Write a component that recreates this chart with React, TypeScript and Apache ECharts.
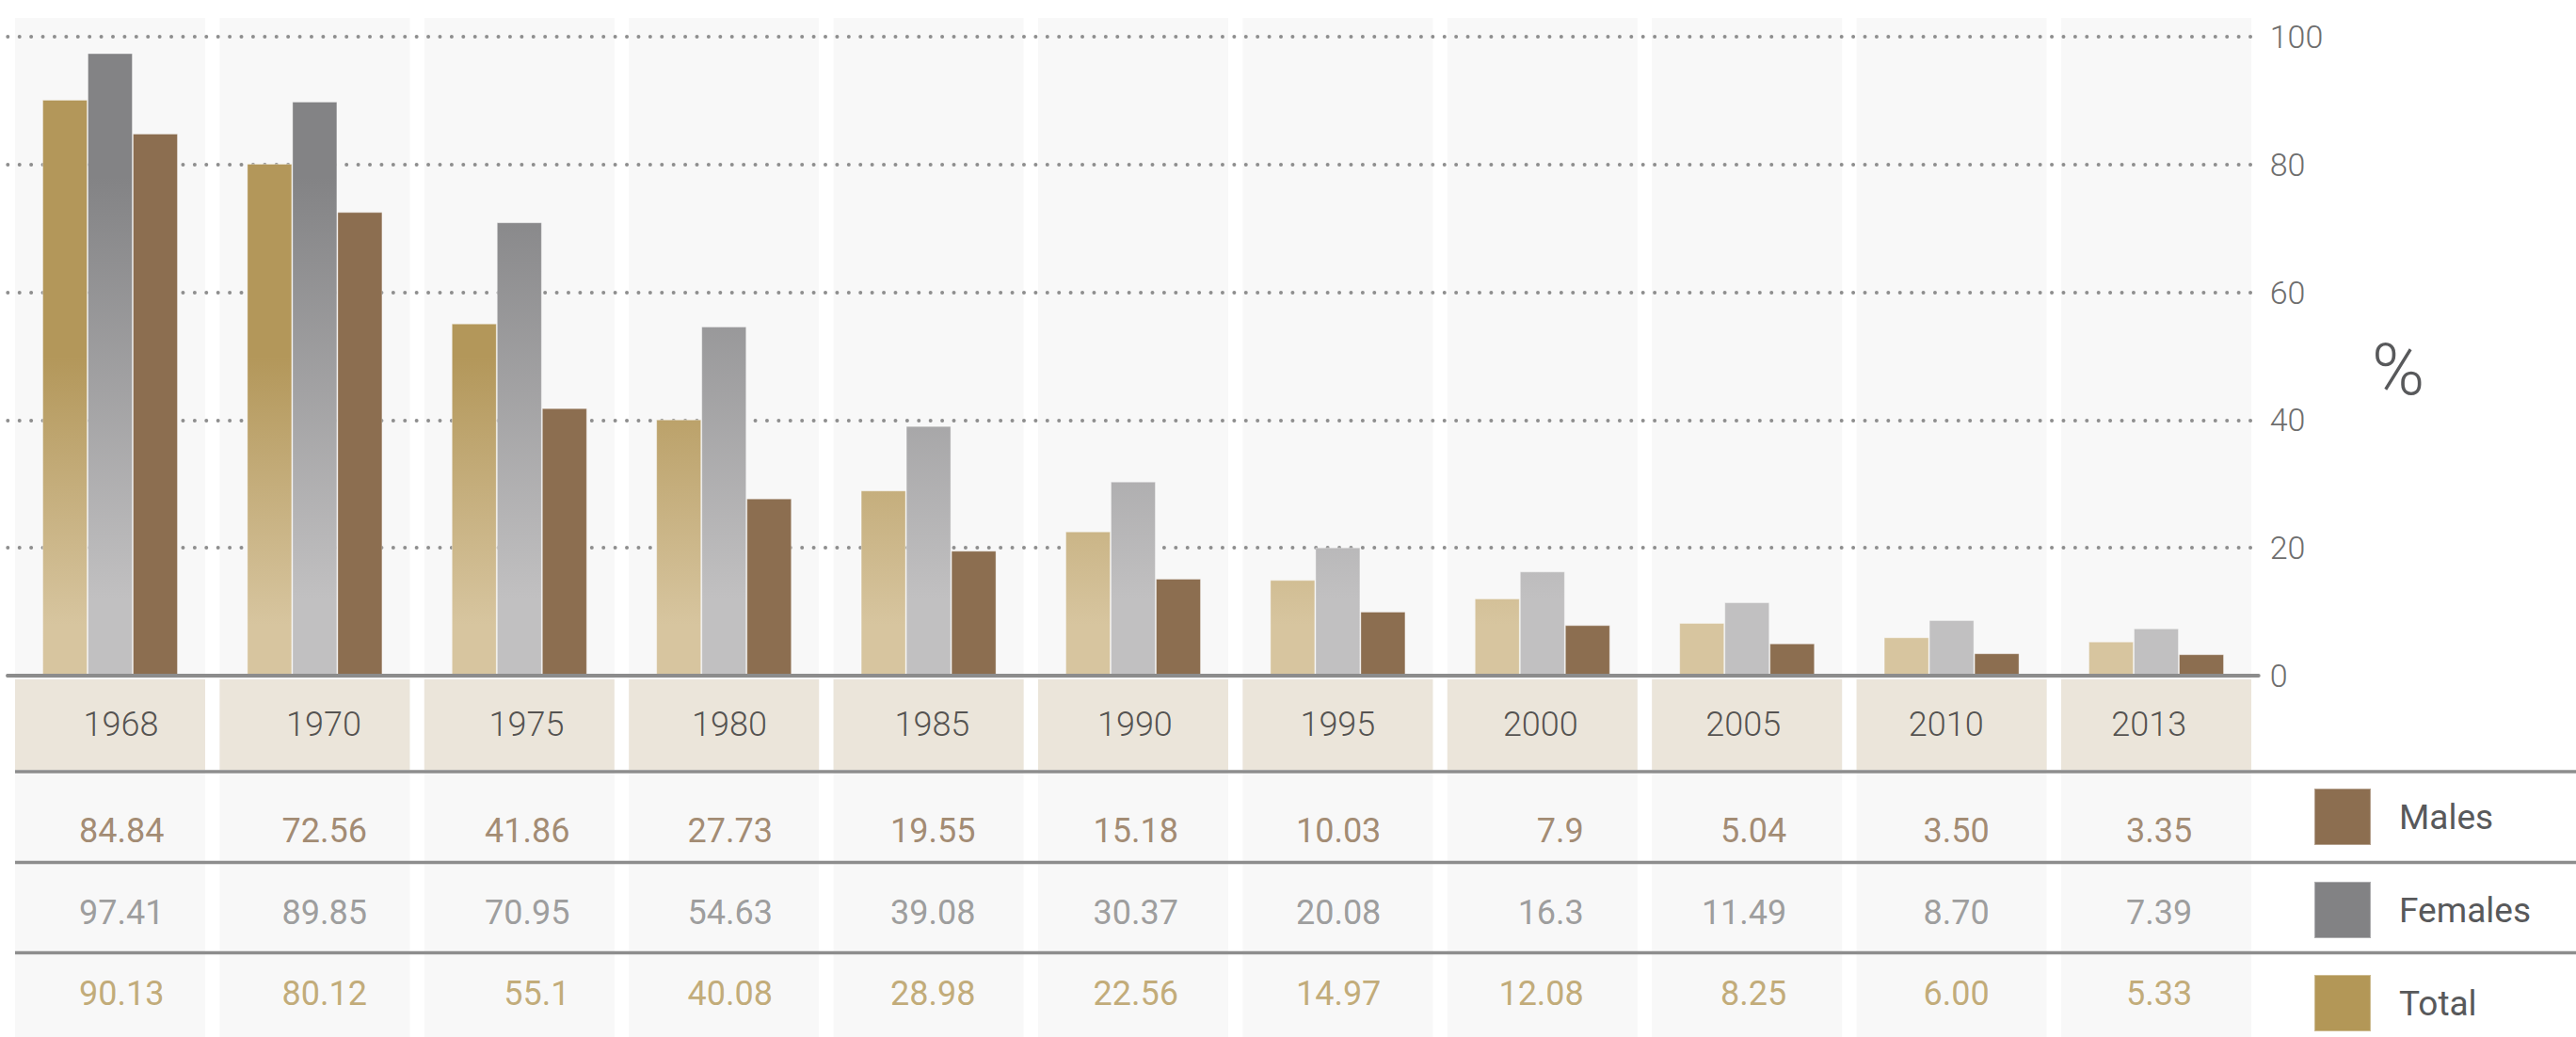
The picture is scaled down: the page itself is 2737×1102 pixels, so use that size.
import React, { useEffect, useRef } from "react";
import * as echarts from "echarts";

// ---- data ----
const years = ["1968", "1970", "1975", "1980", "1985", "1990", "1995", "2000", "2005", "2010", "2013"];
const malesText = ["84.84", "72.56", "41.86", "27.73", "19.55", "15.18", "10.03", "7.9", "5.04", "3.50", "3.35"];
const femalesText = ["97.41", "89.85", "70.95", "54.63", "39.08", "30.37", "20.08", "16.3", "11.49", "8.70", "7.39"];
const totalText = ["90.13", "80.12", "55.1", "40.08", "28.98", "22.56", "14.97", "12.08", "8.25", "6.00", "5.33"];
const rowNames = ["Males", "Females", "Total"];
const yMin = 0;
const yMax = 100;
const yInterval = 20;
const unitLabel = "%";

const males = malesText.map((t) => parseFloat(t));
const females = femalesText.map((t) => parseFloat(t));
const total = totalText.map((t) => parseFloat(t));

// ---- style ----
const FONT = "Roboto, 'Noto Sans', sans-serif";
const C_MALE = "#8c6e50";
const C_FEMALE = "#828284";
const C_TOTAL = "#b39757";
const GRID_L = 8.3;
const GRID_R = 337.3;
const TXT_L = 20.75;
const TXT_R = 346;
const PLOT_TOP = 39;
const PLOT_H = 679;
const COL_W = 202;
const BAR_W = 48;

const yAt = (v: number) => PLOT_TOP + (1 - (v - yMin) / (yMax - yMin)) * PLOT_H;

export default function App() {
  const ref = useRef<HTMLDivElement>(null);

  useEffect(() => {
    if (!ref.current) return;
    const chart = echarts.init(ref.current, null, { renderer: "svg" });

    const totalGrad = new echarts.graphic.LinearGradient(
      0, yAt(50), 0, yAt(8),
      [
        { offset: 0, color: "#b3975a" },
        { offset: 1, color: "#d7c59f" },
      ],
      true
    );
    const femaleGrad = new echarts.graphic.LinearGradient(
      0, yAt(78), 0, yAt(12),
      [
        { offset: 0, color: "#838385" },
        { offset: 1, color: "#c1c0c1" },
      ],
      true
    );

    const ones = years.map(() => 1);

    const tableSeries = [malesText, femalesText, totalText].map((texts, r) => ({
      name: rowNames[r] + " values",
      type: "scatter",
      xAxisIndex: 3,
      yAxisIndex: 3,
      symbolSize: 2,
      silent: true,
      itemStyle: { color: "rgba(0,0,0,0)" },
      data: texts.map((_, i) => [years[i], rowNames[r]]),
      label: {
        show: true,
        position: "inside",
        align: "right",
        offset: [46, 0],
        formatter: (p: any) => texts[p.dataIndex],
        fontSize: 36,
        fontFamily: FONT,
        color: [C_MALE, "#858585", "#b39757"][r],
      },
      z: 5,
    }));

    const option: any = {
      animation: false,
      backgroundColor: "#ffffff",
      textStyle: { fontFamily: FONT },
      grid: [
        { left: GRID_L, right: GRID_R, top: PLOT_TOP, height: PLOT_H },
        { left: GRID_L, right: GRID_R, top: 19, bottom: 0 },
        { left: GRID_L, right: GRID_R, top: 722, height: 96 },
        { left: TXT_L, right: TXT_R, top: 840, height: 259.5 },
        { left: TXT_L, right: TXT_R, top: 722, height: 96 },
      ],
      xAxis: [
        {
          type: "category",
          gridIndex: 0,
          data: years,
          axisLine: { show: true, lineStyle: { color: "#8c8c8c", width: 4 } },
          axisTick: { show: false },
          axisLabel: { show: false },
          z: 3,
        },
        { type: "category", gridIndex: 1, data: years, show: false },
        { type: "category", gridIndex: 2, data: years, show: false },
        { type: "category", gridIndex: 3, data: years, show: false },
        { type: "category", gridIndex: 4, data: years, show: false },
      ],
      yAxis: [
        {
          type: "value",
          gridIndex: 0,
          min: yMin,
          max: yMax,
          interval: yInterval,
          position: "right",
          axisLine: { show: false },
          axisTick: { show: false },
          axisLabel: {
            color: "#6e6e6e",
            fontSize: 34,
            margin: 12,
            fontWeight: 300,
            fontFamily: FONT,
            padding: [0, 0, 16, 0],
          },
          splitLine: {
            show: true,
            lineStyle: { color: "#8e8e8e", width: 4, type: [0.01, 12.4], cap: "round" },
          },
          z: 1,
        },
        { type: "value", gridIndex: 1, min: 0, max: 1, show: false },
        { type: "value", gridIndex: 2, min: 0, max: 1, show: false },
        { type: "category", gridIndex: 3, data: rowNames, inverse: true, show: false },
        { type: "value", gridIndex: 4, min: 0, max: 1, show: false },
      ],
      legend: {
        orient: "vertical",
        left: 2458,
        top: 837,
        height: 300,
        padding: 0,
        itemWidth: 60,
        itemHeight: 60,
        itemGap: 37,
        icon: "rect",
        selectedMode: false,
        data: [
          { name: "Males", itemStyle: { color: C_MALE } },
          { name: "Females", itemStyle: { color: C_FEMALE } },
          { name: "Total", itemStyle: { color: C_TOTAL } },
        ],
        textStyle: { fontSize: 37, color: "#58595b", fontFamily: FONT, padding: [8, 0, 0, 25] },
      },
      graphic: [
        {
          type: "text",
          x: 2548,
          y: 393,
          style: {
            text: unitLabel,
            fontSize: 76,
            fontFamily: FONT,
            fontWeight: 300,
            fill: "#58595b",
            align: "center",
            verticalAlign: "middle",
          },
          z: 10,
        },
        ...[820, 916.5, 1012.5].map((y) => ({
          type: "line",
          shape: { x1: 16, y1: y, x2: 2737, y2: y },
          style: { stroke: "#8d8d8d", lineWidth: 3.5 },
          z: 10,
        })),
      ],
      series: [
        {
          name: "bg",
          type: "bar",
          xAxisIndex: 1,
          yAxisIndex: 1,
          data: ones,
          barWidth: COL_W,
          silent: true,
          itemStyle: { color: "#f8f8f8" },
          z: 0,
        },
        {
          name: "header",
          type: "bar",
          xAxisIndex: 2,
          yAxisIndex: 2,
          data: ones,
          barWidth: COL_W,
          silent: true,
          itemStyle: { color: "#ebe5da" },
          z: 1,
        },
        {
          name: "year labels",
          type: "scatter",
          xAxisIndex: 4,
          yAxisIndex: 4,
          symbolSize: 2,
          silent: true,
          itemStyle: { color: "rgba(0,0,0,0)" },
          data: years.map((y) => [y, 0.5]),
          label: {
            show: true,
            position: "inside",
            formatter: (p: any) => years[p.dataIndex],
            fontSize: 36,
            fontWeight: 300,
            fontFamily: FONT,
            color: "#2b2b2b",
          },
          z: 5,
        },
        {
          name: "Total",
          type: "bar",
          data: total,
          barWidth: BAR_W,
          barGap: "0%",
          itemStyle: { color: totalGrad, borderColor: "rgba(255,255,255,0.35)", borderWidth: 1 },
          z: 2,
        },
        {
          name: "Females",
          type: "bar",
          data: females,
          barWidth: BAR_W,
          barGap: "0%",
          itemStyle: { color: femaleGrad, borderColor: "rgba(255,255,255,0.35)", borderWidth: 1 },
          z: 2,
        },
        {
          name: "Males",
          type: "bar",
          data: males,
          barWidth: BAR_W,
          barGap: "0%",
          itemStyle: { color: C_MALE, borderColor: "rgba(255,255,255,0.35)", borderWidth: 1 },
          z: 2,
        },
        ...tableSeries,
      ],
    };

    chart.setOption(option);
    return () => chart.dispose();
  }, []);

  return (
    <div
      ref={ref}
      style={{ position: "fixed", left: 0, top: 0, width: "100vw", height: "100vh", background: "#fff" }}
    />
  );
}
